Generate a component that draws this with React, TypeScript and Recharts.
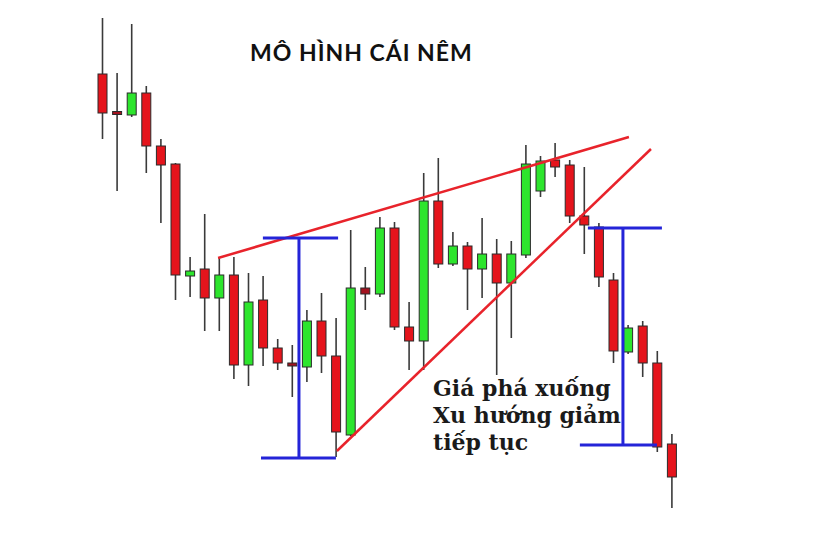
import { ComposedChart, Bar, XAxis, YAxis, ReferenceLine } from 'recharts';

// OHLC (arbitrary price units, no axis in the original)
const OPEN = [115, 105.5, 104.75, 110.25, 97, 92.5, 64.5, 66.25, 59, 64.75, 42.25, 58.5, 46.5, 42.75, 41.75, 53.25, 44.5, 24.75, 61.5, 60, 76.5, 51.75, 48.25, 83.25, 67.5, 72, 66.25, 70, 62.75, 69.75, 85.75, 93.5, 92.25, 79.5, 76.75, 63.5, 45.5, 52, 42.75, 22.5];
const CLOSE = [105.25, 105, 110.25, 97, 92.25, 64.75, 65.75, 59, 64.75, 42.25, 58, 46.5, 42.75, 42, 53.25, 44.5, 25.5, 61.5, 60, 76.5, 51.75, 48.25, 83.25, 67.5, 72, 66.25, 70, 62.75, 70, 92.5, 93.25, 91.75, 79.5, 77.25, 64.25, 45.75, 51.5, 42.75, 21.75, 14.25];
const HIGH = [129, 115.25, 127.5, 112, 98.75, 92.75, 69.25, 80, 69, 69.25, 65.25, 64.5, 48.75, 47.25, 56, 60.25, 54, 76, 66.75, 79.25, 78, 58, 90.25, 94, 75.5, 73, 79, 73.75, 73.25, 97.25, 94.5, 97.75, 93.5, 91.75, 77.75, 65.25, 52.25, 53.25, 45.75, 25];
const LOW = [98.75, 85.75, 104.25, 90.25, 77.75, 58.5, 59.25, 50.75, 50.75, 38.75, 37, 42, 41, 34.25, 38, 40.25, 19.25, 24.5, 56, 59.25, 51, 41, 41, 66.5, 67, 56, 59, 39.75, 49, 69, 84.25, 89.25, 77.75, 70, 61.75, 42.75, 45, 39.25, 20.5, 6.5];
const DOJI = [1, 13, 18]; // near-flat candles drawn dark red

// wedge trendlines and measuring brackets, in (candle index, price)
const UPPER_LINE = [{ x: 7.93, y: 69 }, { x: 36.07, y: 99.25 }];
const LOWER_LINE = [{ x: 16.07, y: 20.75 }, { x: 37.58, y: 96.25 }];
const LEFT_BRACKET = [
  [{ x: 11.0, y: 74 }, { x: 16.15, y: 74 }],
  [{ x: 13.47, y: 74 }, { x: 13.47, y: 19 }],
  [{ x: 10.87, y: 19 }, { x: 16.0, y: 19 }],
];
const RIGHT_BRACKET = [
  [{ x: 33.26, y: 76.5 }, { x: 38.33, y: 76.5 }],
  [{ x: 35.66, y: 76.5 }, { x: 35.66, y: 22.25 }],
  [{ x: 32.71, y: 22.25 }, { x: 37.99, y: 22.25 }],
];

const TITLE = 'MÔ HÌNH CÁI NÊM';
const NOTE = ['Giá phá xuống', 'Xu hướng giảm', 'tiếp tục'];

const W = 831;
const H = 534;
const PAD_L = 95;
const PAD_R = 152;
const BAND = (W - PAD_L - PAD_R) / OPEN.length;

const data = OPEN.map((o, i) => ({
  idx: i,
  open: o,
  close: CLOSE[i],
  high: HIGH[i],
  low: LOW[i],
  doji: DOJI.includes(i),
}));

const Candle = (props: any) => {
  const { x, y, width, height, payload } = props;
  const { open, close, high, low, doji } = payload;
  const k = height / (high - low);
  const cx = x + width / 2;
  const top = y + (high - Math.max(open, close)) * k;
  const bottom = y + (high - Math.min(open, close)) * k;
  const up = close > open;
  const fill = doji ? '#a3121f' : up ? '#2de52d' : '#e5141c';
  const bh = Math.max(bottom - top, 3);
  return (
    <g>
      <line x1={cx} x2={cx} y1={y} y2={y + height} stroke="#3a3a3a" strokeWidth={1.6} />
      <rect x={cx - 4.5} y={top - (bh - (bottom - top)) / 2} width={9} height={bh} fill={fill} stroke="#2b2b2b" strokeWidth={1} />
    </g>
  );
};

export default function App() {
  const nMin = -0.5 - PAD_L / BAND;
  const nMax = OPEN.length - 0.5 + PAD_R / BAND;
  return (
    <div style={{ position: 'absolute', left: 0, top: 0, width: W, height: H, background: '#fff' }}>
      <ComposedChart width={W} height={H} data={data} margin={{ top: 0, right: 0, bottom: 0, left: 0 }}>
        <XAxis dataKey="idx" type="number" hide domain={[nMin, nMax]} allowDataOverflow />
        <YAxis hide type="number" domain={[0, 133.5]} allowDataOverflow />
        <Bar
          dataKey={(d: any) => [d.low, d.high]}
          barSize={9}
          shape={Candle}
          isAnimationActive={false}
        />
        <ReferenceLine segment={UPPER_LINE} stroke="#e8232b" strokeWidth={2.5} />
        <ReferenceLine segment={LOWER_LINE} stroke="#e8232b" strokeWidth={2.5} />
        {[...LEFT_BRACKET, ...RIGHT_BRACKET].map((seg, i) => (
          <ReferenceLine key={i} segment={seg} stroke="#2424d8" strokeWidth={3} />
        ))}
      </ComposedChart>
      <div
        style={{
          position: 'absolute',
          left: 250,
          top: 38,
          fontFamily: 'Lato, "Liberation Sans", sans-serif',
          fontWeight: 700,
          fontSize: 23,
          letterSpacing: 1,
          color: '#111',
          whiteSpace: 'nowrap',
        }}
      >
        {TITLE}
      </div>
      <div
        style={{
          position: 'absolute',
          left: 433,
          top: 375,
          fontFamily: '"DejaVu Serif", serif',
          fontWeight: 700,
          fontSize: 22,
          lineHeight: '27px',
          color: '#1a1a1a',
          whiteSpace: 'nowrap',
        }}
      >
        {NOTE.map((t) => (
          <div key={t}>{t}</div>
        ))}
      </div>
    </div>
  );
}
